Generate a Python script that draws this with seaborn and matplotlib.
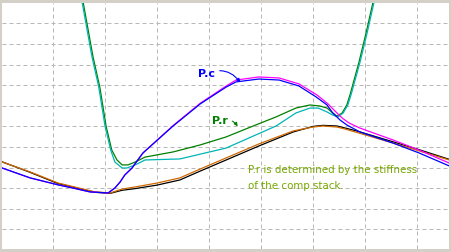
import numpy as np
import pandas as pd
import matplotlib
matplotlib.use("Agg")
import matplotlib.pyplot as plt
import seaborn as sns

# ---- data (arbitrary grid units) ----
green_x = [1.56, 1.77, 1.90, 2.02, 2.13, 2.23, 2.33, 2.44, 2.58, 2.77, 3.31, 3.83, 4.33, 4.85, 5.29, 5.67, 5.94, 6.13, 6.27, 6.38, 6.46, 6.56, 6.65, 6.71, 6.88, 7.02, 7.15, 7.17]
green_y = [12.3, 9.37, 7.91, 6.02, 4.85, 4.37, 4.13, 4.13, 4.27, 4.51, 4.76, 5.10, 5.49, 6.02, 6.46, 6.89, 7.04, 6.99, 6.89, 6.65, 6.50, 6.65, 7.04, 7.52, 9.08, 10.53, 11.99, 12.3]

cyan_x = [1.54, 1.75, 1.88, 2.00, 2.11, 2.19, 2.33, 2.42, 2.58, 2.77, 3.44, 4.33, 5.29, 5.67, 5.94, 6.10, 6.27, 6.38, 6.48, 6.58, 6.67, 6.73, 6.90, 7.04, 7.17, 7.19]
cyan_y = [12.3, 9.37, 7.91, 6.02, 4.85, 4.27, 3.98, 3.98, 4.13, 4.37, 4.42, 4.95, 6.02, 6.65, 6.89, 6.89, 6.70, 6.55, 6.46, 6.65, 7.04, 7.52, 9.08, 10.53, 11.99, 12.3]

blue_x = [0.0, 0.56, 1.10, 1.38, 1.71, 2.06, 2.19, 2.29, 2.38, 2.52, 2.63, 2.73, 3.31, 3.83, 4.33, 4.52, 4.96, 5.35, 5.73, 6.06, 6.27, 6.38, 6.52, 6.65, 6.90, 7.54, 8.04, 8.62]
blue_y = [4.00, 3.50, 3.16, 3.01, 2.82, 2.77, 3.01, 3.30, 3.64, 3.98, 4.37, 4.71, 6.02, 7.09, 7.91, 8.16, 8.30, 8.25, 7.96, 7.43, 7.04, 6.65, 6.31, 6.07, 5.73, 5.19, 4.71, 4.08]

magenta_x = [0.0, 0.56, 1.10, 1.38, 1.71, 2.06, 2.19, 2.29, 2.38, 2.52, 2.63, 2.73, 3.31, 3.83, 4.33, 4.52, 4.96, 5.35, 5.73, 6.08, 6.29, 6.42, 6.56, 6.69, 6.90, 7.54, 8.04, 8.62]
magenta_y = [4.00, 3.50, 3.16, 3.01, 2.82, 2.77, 3.01, 3.30, 3.64, 3.98, 4.37, 4.71, 6.04, 7.12, 7.96, 8.25, 8.40, 8.35, 8.06, 7.52, 7.09, 6.75, 6.41, 6.17, 5.92, 5.34, 4.85, 4.22]

orange_x = [0.0, 0.56, 1.10, 1.58, 1.81, 2.10, 2.33, 2.58, 3.00, 3.44, 3.83, 4.33, 4.96, 5.62, 6.00, 6.19, 6.46, 6.62, 6.88, 7.54, 8.04, 8.62]
orange_y = [4.29, 3.79, 3.25, 2.96, 2.82, 2.77, 2.96, 3.06, 3.25, 3.50, 3.93, 4.47, 5.15, 5.78, 5.97, 6.02, 5.97, 5.87, 5.68, 5.19, 4.81, 4.37]

black_x = [0.0, 0.56, 1.10, 1.58, 1.81, 2.10, 2.33, 2.58, 3.00, 3.44, 3.83, 4.33, 4.96, 5.62, 6.00, 6.19, 6.46, 6.62, 6.88, 7.54, 8.04, 8.62]
black_y = [4.30, 3.77, 3.22, 2.93, 2.80, 2.75, 2.90, 2.98, 3.15, 3.40, 3.83, 4.37, 5.05, 5.73, 6.00, 6.05, 6.02, 5.92, 5.75, 5.25, 4.87, 4.40]

label_pc = "P.c"
label_pr = "P.r"
note = "P.r is determined by the stiffness\nof the comp stack."

# ---- figure ----
sns.set_style("white")
fig = plt.figure(figsize=(4.52, 2.52), dpi=100, facecolor="#d4d0c8")
ax = fig.add_axes([2 / 452, 3 / 252, 447 / 452, 246 / 252])
ax.set_facecolor("white")

lw = 0.9
series = [
    (green_x, green_y, "#008000"),
    (cyan_x, cyan_y, "#00b4b4"),
    (black_x, black_y, "#000000"),
    (orange_x, orange_y, "#d06800"),
    (magenta_x, magenta_y, "#ff00ff"),
    (blue_x, blue_y, "#0000ff"),
]
for xs, ys, c in series:
    df = pd.DataFrame({"x": xs, "y": ys})
    sns.lineplot(data=df, x="x", y="y", sort=False, estimator=None,
                 color=c, lw=lw, ax=ax)

ax.set_xlim(0.0192, 8.615)
ax.set_ylim(0.0485, 11.99)
ax.set_xticks(np.arange(1, 9))
ax.set_yticks(np.arange(1, 12))
ax.set_xticklabels([])
ax.set_yticklabels([])
ax.tick_params(length=0)
ax.set_xlabel("")
ax.set_ylabel("")
ax.grid(True, color="#b8b8b8", lw=0.72, linestyle=(0, (4, 3)))
ax.set_axisbelow(True)
for s in ax.spines.values():
    s.set_visible(False)

# annotations
ax.annotate(label_pc, xy=(4.60, 8.14), xytext=(3.79, 8.55),
            color="#0000ff", fontsize=8, fontweight="bold", va="center", ha="left",
            arrowprops=dict(arrowstyle="-|>", color="#0000ff", lw=0.8,
                            mutation_scale=5, shrinkA=1, shrinkB=0,
                            connectionstyle="arc3,rad=-0.4"))
ax.annotate(label_pr, xy=(4.55, 6.00), xytext=(4.06, 6.28),
            color="#008000", fontsize=8, fontweight="bold", va="center", ha="left",
            arrowprops=dict(arrowstyle="-|>", color="#008000", lw=0.8,
                            mutation_scale=5, shrinkA=1, shrinkB=0,
                            connectionstyle="arc3,rad=-0.4"))
ax.text(4.75, 4.13, note, color="#78a800", fontsize=7.4, va="top", ha="left",
        family="DejaVu Sans", linespacing=1.8)

fig.savefig("out.png", dpi=100, facecolor=fig.get_facecolor())
